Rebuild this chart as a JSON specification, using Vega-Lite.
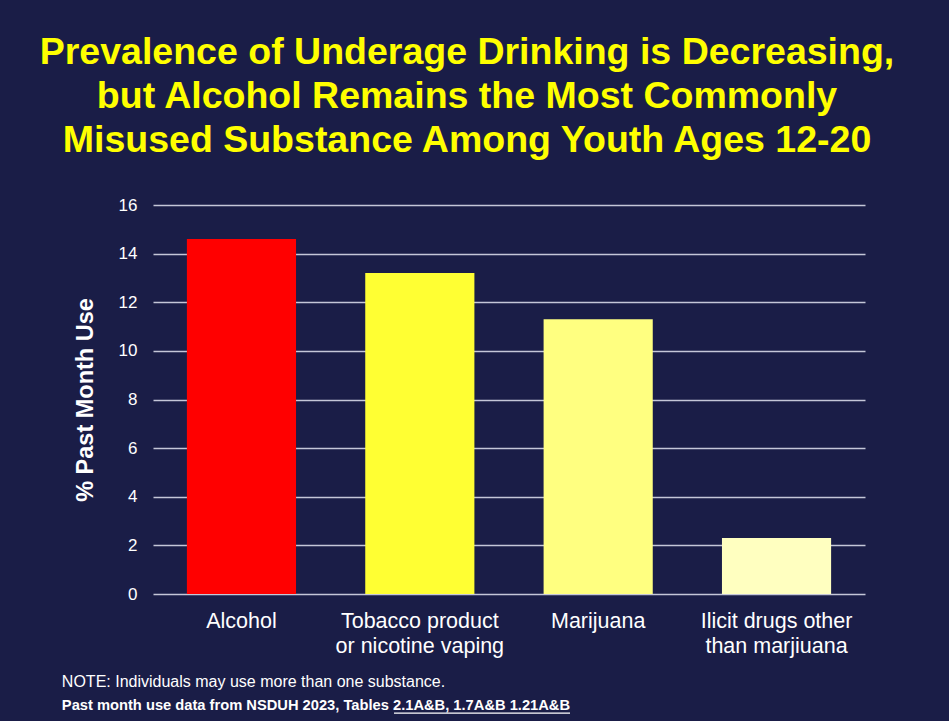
{
  "$schema": "https://vega.github.io/schema/vega-lite/v6.json",
  "background": "#1a1d47",
  "autosize": {"type": "none"},
  "width": 712,
  "height": 389,
  "padding": {"left": 153, "top": 205, "right": 84, "bottom": 127},
  "title": {
    "text": ["Prevalence of Underage Drinking is Decreasing,", "but Alcohol Remains the Most Commonly", "Misused Substance Among Youth Ages 12-20"],
    "color": "#ffff00",
    "font": "Liberation Sans",
    "fontSize": 37.5,
    "fontWeight": "bold",
    "lineHeight": 44,
    "anchor": "middle",
    "frame": "group",
    "offset": 37,
    "dx": -42
  },
  "config": {
    "view": {"stroke": null},
    "font": "Liberation Sans"
  },
  "resolve": {"scale": {"x": "independent"}, "axis": {"x": "independent"}},
  "layer": [
    {
      "data": {
        "values": [
          {"substance": "Alcohol", "pct": 14.6},
          {"substance": "Tobacco product or nicotine vaping", "pct": 13.2},
          {"substance": "Marijuana", "pct": 11.3},
          {"substance": "Ilicit drugs other than marjiuana", "pct": 2.3}
        ]
      },
      "mark": {"type": "bar"},
      "encoding": {
        "x": {
          "field": "substance",
          "type": "nominal",
          "sort": null,
          "scale": {"paddingInner": 0.388, "paddingOuter": 0.19},
          "axis": {
            "title": null,
            "ticks": false,
            "tickSize": 0,
            "domain": false,
            "labelAngle": 0,
            "labelFont": "Liberation Sans",
            "labelFontSize": 21.5,
            "labelColor": "#ffffff",
            "labelPadding": 16,
            "labelLineHeight": 25,
            "labelBaseline": "top",
            "labelExpr": "datum.value == 'Tobacco product or nicotine vaping' ? ['Tobacco product', 'or nicotine vaping'] : datum.value == 'Ilicit drugs other than marjiuana' ? ['Ilicit drugs other', 'than marjiuana'] : datum.value"
          }
        },
        "y": {
          "field": "pct",
          "type": "quantitative",
          "scale": {"domain": [0, 16], "nice": false},
          "axis": {
            "title": "% Past Month Use",
            "values": [0, 2, 4, 6, 8, 10, 12, 14, 16],
            "ticks": false,
            "tickSize": 0,
            "domain": false,
            "grid": true,
            "gridColor": "#c4c6d8",
            "gridWidth": 1.5,
            "gridOpacity": 1,
            "labelFont": "Liberation Sans",
            "labelFontSize": 17,
            "labelColor": "#ffffff",
            "labelPadding": 16,
            "titleFont": "Liberation Sans",
            "titleFontSize": 23.5,
            "titleFontWeight": "bold",
            "titleColor": "#ffffff",
            "titlePadding": 21
          }
        },
        "color": {
          "field": "substance",
          "type": "nominal",
          "legend": null,
          "scale": {
            "domain": ["Alcohol", "Tobacco product or nicotine vaping", "Marijuana", "Ilicit drugs other than marjiuana"],
            "range": ["#ff0000", "#ffff33", "#ffff80", "#ffffc0"]
          }
        }
      }
    },
    {
      "data": {"values": [{"note": "NOTE: Individuals may use more than one substance."}]},
      "mark": {"type": "text", "align": "left", "baseline": "middle", "font": "Liberation Sans", "fontSize": 16, "color": "#ffffff", "clip": false},
      "encoding": {
        "x": {"datum": -0.128, "type": "quantitative", "scale": {"domain": [0, 1]}, "axis": null},
        "y": {"datum": -3.6, "type": "quantitative", "scale": {"domain": [0, 16], "nice": false}},
        "text": {"field": "note"}
      }
    },
    {
      "data": {"values": [{"note": "Past month use data from NSDUH 2023, Tables 2.1A&B, 1.7A&B 1.21A&B"}]},
      "mark": {"type": "text", "align": "left", "baseline": "middle", "font": "Liberation Sans", "fontSize": 14.7, "fontWeight": "bold", "color": "#ffffff", "clip": false},
      "encoding": {
        "x": {"datum": -0.128, "type": "quantitative", "scale": {"domain": [0, 1]}, "axis": null},
        "y": {"datum": -4.6, "type": "quantitative", "scale": {"domain": [0, 16], "nice": false}},
        "text": {"field": "note"}
      }
    },
    {
      "data": {"values": [{"from": 0.3385, "to": 0.5857}]},
      "mark": {"type": "rule", "color": "#ffffff", "strokeWidth": 1.3, "clip": false},
      "encoding": {
        "x": {"field": "from", "type": "quantitative", "scale": {"domain": [0, 1]}, "axis": null},
        "x2": {"field": "to"},
        "y": {"datum": -4.9, "type": "quantitative", "scale": {"domain": [0, 16], "nice": false}}
      }
    }
  ]
}
